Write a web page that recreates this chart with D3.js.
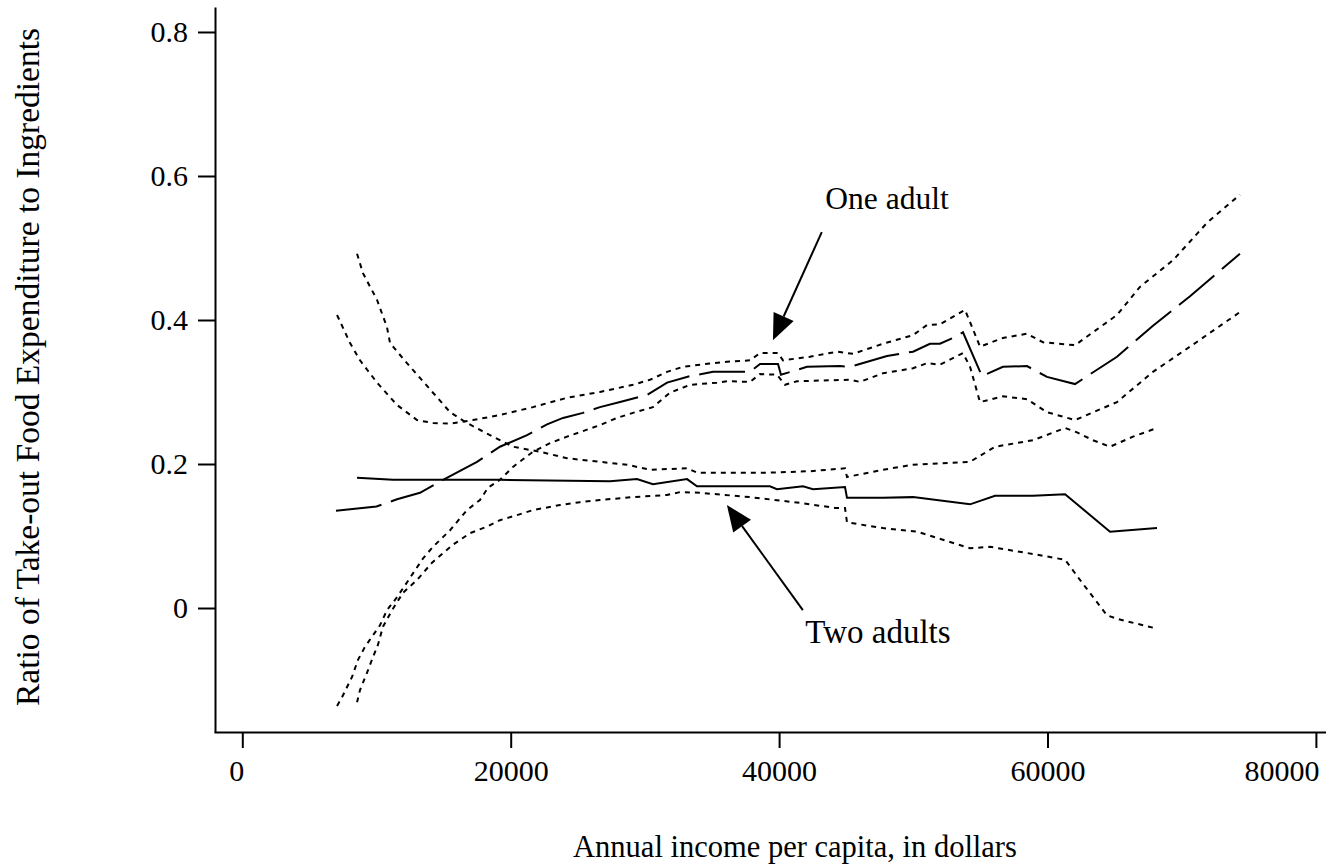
<!DOCTYPE html>
<html lang="en">
<head>
<meta charset="utf-8">
<style type="text/css">
    body { margin: 0; background: #fff; }
    svg text { font-family: "Liberation Serif", "Times New Roman", serif; font-size: 30px; fill: #000; }
    .axis path, .axis line { stroke: #000; stroke-width: 2px; }
    .curve { fill: none; stroke: #000; stroke-width: 2px; }
</style>
</head>
<body>
<svg width="1326" height="864"></svg>

<script src="https://d3js.org/d3.v7.min.js"></script>
<script type="text/javascript">
// [income, ratio] pairs
var oneAdultFit = [[6980,0.135],[10000,0.141],[11530,0.151],[13240,0.160],[14960,0.178],[17490,0.203],
    [19200,0.224],[21220,0.240],[22710,0.255],[23900,0.264],[25390,0.271],[26650,0.279],[28150,0.286],
    [30160,0.296],[31650,0.313],[33360,0.322],[35080,0.328],[37830,0.328],[38580,0.339],[39920,0.339],
    [40140,0.324],[42080,0.335],[44540,0.336],[45280,0.335],[48040,0.350],[49980,0.356],[51240,0.367],
    [51990,0.367],[52960,0.375],[53700,0.383],[55120,0.322],[56680,0.335],[58470,0.336],[59960,0.321],
    [62050,0.311],[65180,0.349],[67860,0.392],[70620,0.433],[74340,0.492]];

var oneAdultHigh = [[7060,0.407],[8030,0.368],[8770,0.344],[10040,0.313],[11530,0.282],[13020,0.261],
    [14210,0.257],[15480,0.256],[16220,0.258],[17190,0.261],[19200,0.268],[21660,0.279],[24200,0.292],
    [26650,0.300],[29110,0.310],[30380,0.317],[31650,0.328],[32840,0.335],[34110,0.338],[36120,0.342],
    [37830,0.344],[38580,0.354],[39920,0.354],[40290,0.344],[42300,0.349],[44320,0.356],[45510,0.353],
    [47740,0.367],[49980,0.379],[51020,0.393],[51990,0.394],[53850,0.414],[54230,0.397],[54970,0.363],
    [56680,0.375],[58470,0.381],[59670,0.369],[62050,0.365],[65180,0.407],[66890,0.446],[69350,0.483],
    [71890,0.535],[74340,0.574]];

var oneAdultLow = [[7060,-0.136],[7430,-0.124],[8170,-0.096],[8620,-0.072],[9140,-0.054],[9660,-0.040],
    [10260,-0.024],[10780,-0.003],[11530,0.015],[12500,0.042],[13470,0.069],[14210,0.085],[15480,0.108],
    [16740,0.136],[17710,0.150],[18310,0.167],[19200,0.178],[20170,0.196],[21660,0.217],[22930,0.229],
    [24200,0.238],[26650,0.254],[27920,0.264],[29110,0.271],[30600,0.279],[31870,0.299],[33360,0.310],
    [35370,0.313],[36120,0.315],[37830,0.314],[38580,0.325],[39840,0.324],[40440,0.310],[41330,0.315],
    [45280,0.317],[46030,0.314],[47740,0.326],[49980,0.333],[51020,0.340],[51990,0.338],[53700,0.354],
    [54230,0.335],[54970,0.286],[56680,0.294],[58470,0.290],[59960,0.272],[62050,0.261],[65180,0.286],
    [67860,0.328],[70620,0.363],[74340,0.411]];

var twoAdultFit = [[8550,0.181],[11230,0.178],[19200,0.178],[27400,0.176],[29410,0.179],[30600,0.172],
    [33140,0.179],[33880,0.169],[39320,0.169],[39840,0.165],[41780,0.169],[42530,0.165],[44910,0.168],
    [45060,0.153],[47740,0.153],[49980,0.154],[54230,0.144],[56090,0.156],[58920,0.156],[61310,0.158],
    [64660,0.106],[68160,0.111]];

var twoAdultHigh = [[8550,0.492],[8990,0.465],[10040,0.428],[10780,0.390],[11010,0.368],[12270,0.340],
    [14210,0.299],[15480,0.272],[16740,0.257],[18460,0.240],[20170,0.224],[22180,0.217],[24200,0.208],
    [26650,0.203],[28670,0.199],[30380,0.192],[33140,0.194],[33880,0.188],[39320,0.188],[42300,0.190],
    [44910,0.194],[45060,0.182],[47740,0.192],[49980,0.199],[54230,0.203],[56090,0.224],[58920,0.233],
    [61310,0.250],[62200,0.244],[63390,0.233],[64660,0.224],[66370,0.238],[68010,0.249]];

var twoAdultLow = [[8550,-0.131],[8770,-0.114],[9290,-0.090],[9740,-0.068],[10110,-0.051],[10480,-0.026],
    [11160,-0.003],[11970,0.021],[13020,0.039],[14140,0.063],[15700,0.088],[16970,0.104],[18230,0.113],
    [19200,0.122],[20470,0.129],[21660,0.136],[23670,0.143],[25160,0.147],[26650,0.150],[29110,0.154],
    [31650,0.157],[32620,0.161],[34110,0.160],[37830,0.154],[41560,0.146],[44170,0.139],[44910,0.139],
    [45060,0.119],[47740,0.111],[50280,0.106],[54230,0.083],[55720,0.085],[58920,0.075],[61310,0.067],
    [62420,0.039],[64430,-0.010],[65180,-0.015],[68010,-0.028]];

var xTicks = [0, 20000, 40000, 60000, 80000];
var yTicks = [0, 0.2, 0.4, 0.6, 0.8];

// label text, text anchor point, arrow tail, arrow tip
var notes = [
    {text: "One adult", size: 31.5, at: [48040, 0.554], from: [43180, 0.522], to: [39540, 0.372]},
    {text: "Two adults", size: 33, at: [47370, -0.048], from: [41770, -0.003], to: [36110, 0.143]}
];

var svg = d3.select("svg");

var x = d3.scaleLinear().domain([-2109, 80753]).range([214, 1326]);
var y = d3.scaleLinear().domain([-0.1722, 0.8347]).range([732, 7]);

svg.append("g")
    .attr("class", "axis")
    .attr("transform", "translate(215,0)")
    .call(d3.axisLeft(y).tickValues(yTicks).tickSize(17).tickSizeOuter(0).tickPadding(10)
        .tickFormat(function(d){ return d === 0 ? "0" : d3.format(".1f")(d); }));

var xAxis = svg.append("g")
    .attr("class", "axis")
    .attr("transform", "translate(0,732)")
    .call(d3.axisBottom(x).tickValues(xTicks)
        .tickSize(16).tickSizeOuter(0).tickPadding(12).tickFormat(d3.format("d")));

// last label is pulled in so it stays inside the frame
xAxis.selectAll(".tick text")
    .filter(function(d){ return d === 80000; })
    .attr("text-anchor", "end").attr("x", 3);
xAxis.selectAll(".tick text")
    .filter(function(d){ return d === 0; })
    .attr("x", -6);

svg.selectAll(".axis text").style("font-size", "30px").style("font-family", "Liberation Serif");

var line = d3.line()
    .x(function(d){ return x(d[0]); })
    .y(function(d){ return y(d[1]); });

var curves = [
    {data: oneAdultFit, dash: "46,10"},
    {data: oneAdultHigh, dash: "5,5"},
    {data: oneAdultLow, dash: "5,5"},
    {data: twoAdultFit, dash: null},
    {data: twoAdultHigh, dash: "5,5"},
    {data: twoAdultLow, dash: "5,5"}
];

svg.selectAll("path.curve")
    .data(curves)
    .enter().append("path")
    .attr("class", "curve")
    .attr("d", function(d){ return line(d.data); })
    .attr("stroke-dasharray", function(d){ return d.dash; });

// annotations with arrows
var note = svg.selectAll("g.note").data(notes).enter().append("g").attr("class", "note");

note.append("text")
    .attr("x", function(d){ return x(d.at[0]); })
    .attr("y", function(d){ return y(d.at[1]); })
    .attr("text-anchor", "middle")
    .style("font-size", function(d){ return d.size + "px"; })
    .text(function(d){ return d.text; });

note.each(function(d){
    var x1 = x(d.from[0]), y1 = y(d.from[1]), x2 = x(d.to[0]), y2 = y(d.to[1]);
    var a = Math.atan2(y2 - y1, x2 - x1), len = 26, half = 11;
    var bx = x2 - len * Math.cos(a), by = y2 - len * Math.sin(a);
    var g = d3.select(this);
    g.append("line")
        .attr("x1", x1).attr("y1", y1).attr("x2", bx).attr("y2", by)
        .attr("stroke", "#000").attr("stroke-width", 2);
    g.append("path")
        .attr("d", "M" + x2 + "," + y2 +
            "L" + (bx + half * Math.sin(a)) + "," + (by - half * Math.cos(a)) +
            "L" + (bx - half * Math.sin(a)) + "," + (by + half * Math.cos(a)) + "Z")
        .attr("fill", "#000");
});

// axis titles
svg.append("text")
    .attr("x", 795).attr("y", 857)
    .attr("text-anchor", "middle")
    .style("font-size", "30.5px")
    .text("Annual income per capita, in dollars");

svg.append("text")
    .attr("transform", "translate(39,367) rotate(-90)")
    .attr("text-anchor", "middle")
    .style("font-size", "33.5px")
    .text("Ratio of Take-out Food Expenditure to Ingredients");
</script>
</body>
</html>
